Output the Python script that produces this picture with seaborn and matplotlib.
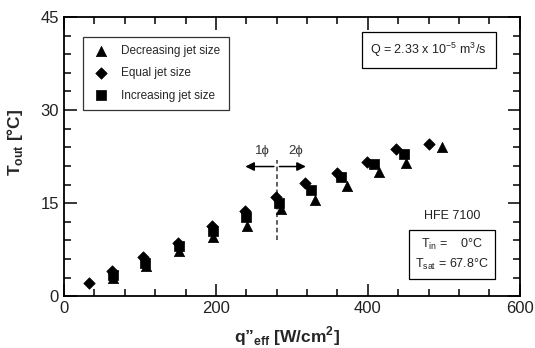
import numpy as np
import pandas as pd
import seaborn as sns
import matplotlib.pyplot as plt
from matplotlib.ticker import MultipleLocator

# data
q_dec = [65, 108, 152, 196, 241, 285, 330, 373, 415, 450, 498]
t_dec = [2.9, 4.8, 7.3, 9.5, 11.3, 14.0, 15.5, 17.7, 20.0, 21.5, 24.1]

q_eq = [33, 63, 104, 150, 195, 238, 279, 317, 360, 399, 437, 480]
t_eq = [2.2, 4.0, 6.3, 8.6, 11.3, 13.7, 16.0, 18.2, 19.8, 21.7, 23.7, 24.5]

q_inc = [64, 106, 151, 196, 240, 283, 325, 365, 408, 448]
t_inc = [3.4, 5.4, 8.1, 10.5, 12.8, 15.0, 17.1, 19.2, 21.3, 22.9]

labels = ["Decreasing jet size", "Equal jet size", "Increasing jet size"]

df = pd.concat([
    pd.DataFrame({"q": q_dec, "T": t_dec, "case": labels[0]}),
    pd.DataFrame({"q": q_eq, "T": t_eq, "case": labels[1]}),
    pd.DataFrame({"q": q_inc, "T": t_inc, "case": labels[2]}),
])

sns.set_style("ticks")
plt.rcParams["font.family"] = ["Liberation Sans", "DejaVu Sans"]
plt.rcParams["mathtext.fontset"] = "custom"
plt.rcParams["mathtext.rm"] = "Liberation Sans"
plt.rcParams["mathtext.bf"] = "Liberation Sans:bold"

fig = plt.figure(figsize=(5.35, 3.48), dpi=100)
ax = fig.add_axes([0.1196, 0.149, 0.852, 0.802])

markers = {labels[0]: "^", labels[1]: "D", labels[2]: "s"}
sizes = {labels[0]: 55, labels[1]: 34, labels[2]: 45}
for lab in labels:
    sub = df[df["case"] == lab]
    sns.scatterplot(data=sub, x="q", y="T", marker=markers[lab], s=sizes[lab],
                    color="black", edgecolor="black", linewidth=0.5,
                    label=lab, ax=ax, zorder=3)

ax.set_xlim(0, 600)
ax.set_ylim(0, 45)
ax.xaxis.set_major_locator(MultipleLocator(200))
ax.xaxis.set_minor_locator(MultipleLocator(40))
ax.yaxis.set_major_locator(MultipleLocator(15))
ax.yaxis.set_minor_locator(MultipleLocator(3))
ax.tick_params(which="both", direction="in", top=True, right=True, width=1.1,
               colors="black", labelsize=12, labelcolor="#222222")
ax.tick_params(which="major", length=9)
ax.tick_params(which="minor", length=5)
for sp in ax.spines.values():
    sp.set_linewidth(1.3)
    sp.set_color("black")

ax.set_xlabel("q”$_{\\mathbf{eff}}$ [W/cm$^{\\mathbf{2}}$]", fontsize=12.5,
              fontweight="bold")
ax.xaxis.set_label_coords(0.49, -0.10)
ax.set_ylabel(r"T$_{\mathbf{out}}$ [°C]", fontsize=12.5, fontweight="bold")
ax.yaxis.set_label_coords(-0.085, 0.55)

leg = ax.legend(loc="upper left", bbox_to_anchor=(0.042, 0.93), fontsize=8.5,
                frameon=True, fancybox=False, edgecolor="black",
                handletextpad=0.9, labelspacing=0.85, borderpad=0.75,
                handlelength=1.6, borderaxespad=0)
leg.get_frame().set_linewidth(0.9)

# two-phase onset marker
ax.plot([280, 280], [9, 22], ls=(0, (3, 2)), color="#333333", lw=1.1)
ax.annotate("", xy=(235, 20.9), xytext=(280, 20.9),
            arrowprops=dict(arrowstyle="-|>", color="black", lw=1.1,
                            mutation_scale=13))
ax.annotate("", xy=(322, 20.9), xytext=(280, 20.9),
            arrowprops=dict(arrowstyle="-|>", color="black", lw=1.1,
                            mutation_scale=13))
ax.text(261, 22.4, "1ϕ", ha="center", va="bottom", fontsize=9.5, color="#333333")
ax.text(305, 22.4, "2ϕ", ha="center", va="bottom", fontsize=9.5, color="#333333")

ax.text(0.80, 0.882, r"Q = 2.33 x 10$^{-5}$ m$^{3}$/s", transform=ax.transAxes,
        ha="center", va="center", fontsize=9, color="#222222",
        bbox=dict(boxstyle="square,pad=0.7", fc="white", ec="black", lw=0.9))
ax.text(0.851, 0.287, "HFE 7100", transform=ax.transAxes, ha="center",
        va="center", fontsize=9, color="#222222")
ax.text(0.851, 0.149, "T$_{\\mathrm{in}}$ =    0°C\nT$_{\\mathrm{sat}}$ = 67.8°C",
        transform=ax.transAxes, ha="center", va="center", fontsize=9,
        color="#222222", linespacing=1.5,
        bbox=dict(boxstyle="square,pad=0.5", fc="white", ec="black", lw=0.9))

fig.savefig("out.png", dpi=100)
